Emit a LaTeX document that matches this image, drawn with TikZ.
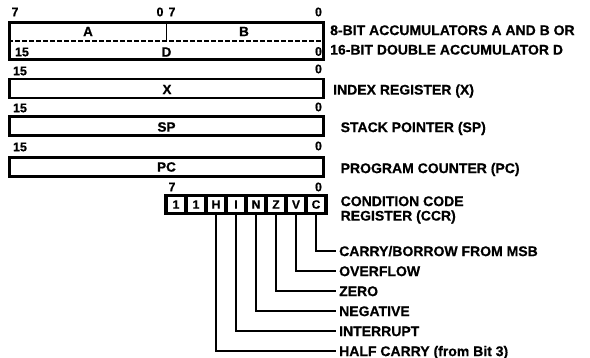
\documentclass[tikz,border=0pt]{standalone}
\usepackage{fontspec}
\setmainfont{Liberation Sans}[BoldFeatures={FakeBold=0.6}]
\usetikzlibrary{positioning, calc}
\tikzset{
  regbox/.style={
    rectangle, draw, line width=2.8pt, minimum width=314pt,
    minimum height=#1, inner sep=0pt
  },
  regbox/.default=19pt,
  bitno/.style={
    inner sep=0pt, font=\fontsize{12.5}{13}\selectfont\bfseries
  },
  regname/.style={
    inner sep=0pt, font=\fontsize{13.5}{14}\selectfont\bfseries
  },
  desc/.style={
    anchor=west, inner sep=0pt, text height=10.2pt, text depth=0pt,
    font=\fontsize{14}{15}\selectfont\bfseries
  },
  flagbox/.style={
    rectangle, draw, line width=3.4pt, outer sep=0pt,
    minimum width=20pt, minimum height=17.5pt, inner sep=0pt,
    font=\fontsize{12}{12}\selectfont\bfseries
  },
  lead/.style={line width=1.7pt}
}
\begin{document}
\begin{tikzpicture}[x=1pt, y=-1pt, node distance=0pt]
        \useasboundingbox (0,0) rectangle (590,358);
        % registers
        \node[regbox=37.5pt] (acc) at (166.5,41) {};
        \node[regbox] (xreg) at (166.5,88.5) {};
        \node[regbox] (spreg) at (166.5,126) {};
        \node[regbox] (pcreg) at (166.5,167) {};
        \draw[line width=1.3pt, dash pattern=on 4.5pt off 2.5pt]
          (acc.west) -- (acc.east);
        \draw[line width=1.6pt] (acc.north) -- (acc.center);
        % bit numbers
        \node[bitno] (a7) at (15,12) {7};
        \node[bitno] (a0) at (160,12) {0};
        \node[bitno] (b7) at (172,12) {7};
        \node[bitno] (b0) at (318.5,12) {0};
        \node[bitno] (d15) at (22,52) {15};
        \node[bitno] (d0) at (318.5,51.5) {0};
        \node[bitno] (x15) at (20,71) {15};
        \node[bitno] (x0) at (318.5,69) {0};
        \node[bitno] (sp15) at (20,108) {15};
        \node[bitno] (sp0) at (318.5,107) {0};
        \node[bitno] (pc15) at (20,147) {15};
        \node[bitno] (pc0) at (318.5,146) {0};
        \node[bitno] (ccr7) at (172,187) {7};
        \node[bitno] (ccr0) at (318.5,187) {0};
        \node[regname] (na) at (88,31.5) {A};
        \node[regname] (nb) at (244,31.5) {B};
        \node[regname] (nd) at (166.5,52) {D};
        \node[regname] (nx) at (167,89.5) {X};
        \node[regname] (nsp) at (166.5,127) {SP};
        \node[regname] (npc) at (166.5,167) {PC};
        \node[desc] (accl1) at (330,30) {8-BIT ACCUMULATORS A AND B OR};
        \node[desc] (accl2) at (330,49.5) {16-BIT DOUBLE ACCUMULATOR D};
        \node[desc] (xl) at (333,89.5) {INDEX REGISTER (X)};
        \node[desc] (spl) at (340.5,127) {STACK POINTER (SP)};
        \node[desc] (pcl) at (340.5,168) {PROGRAM COUNTER (PC)};
        \node[desc] (ccrl1) at (340.5,201) {CONDITION CODE};
        \node[desc] (ccrl2) at (340.5,215.5) {REGISTER (CCR)};
        % condition code register
        \node[flagbox] (f7) at (176,204.5) {1};
        \node[flagbox, right=of f7] (f6) {1};
        \node[flagbox, right=of f6] (fh) {H};
        \node[flagbox, right=of fh] (fi) {I};
        \node[flagbox, right=of fi] (fn) {N};
        \node[flagbox, right=of fn] (fz) {Z};
        \node[flagbox, right=of fz] (fv) {V};
        \node[flagbox, right=of fv] (fc) {C};
        \node[desc, inner xsep=3.5pt] (carry) at (335.5,251) {CARRY/BORROW FROM MSB};
        \node[desc, inner xsep=3.5pt] (ovf) at (335.5,271) {OVERFLOW};
        \node[desc, inner xsep=3.5pt] (zero) at (335.5,291) {ZERO};
        \node[desc, inner xsep=3.5pt] (neg) at (335.5,311) {NEGATIVE};
        \node[desc, inner xsep=3.5pt] (intr) at (335.5,331) {INTERRUPT};
        \node[desc, inner xsep=3.5pt] (half) at (335.5,351) {HALF CARRY (from Bit 3)};
        \foreach \f/\t in {fc/carry,fv/ovf,fz/zero,fn/neg,fi/intr,fh/half}{%
          \draw[lead] (\f.south) |- (\t.west);}
      \end{tikzpicture}
\end{document}
